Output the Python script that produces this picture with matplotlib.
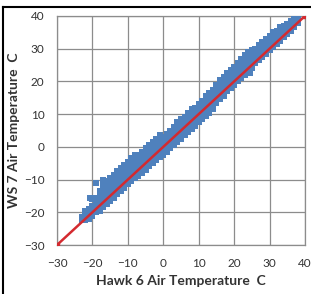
import matplotlib.pyplot as plt
from matplotlib.lines import Line2D

# Hawk 6 (x) vs WS 7 (y) air temperature
col_x = [-23, -22, -21, -20, -19, -18, -17, -16, -15, -14, -13, -12, -11, -10,
         -9, -8, -7, -6, -5, -4, -3, -2, -1, 0, 1, 2, 3, 4, 5, 6, 7, 8, 9, 10,
         11, 12, 13, 14, 15, 16, 17, 18, 19, 20, 21, 22, 23, 24, 25, 26, 27,
         28, 29, 30, 31, 32, 33, 34, 35, 36, 37, 38]
col_y = [
    [-22.5, -21.5],
    [-22.5, -21, -19.5],
    [-22, -20.5, -19],
    [-21, -19.5, -18, -16],
    [-20, -18.5, -17, -15.5],
    [-19.5, -18, -16.5, -15, -13.5],
    [-18.5, -17, -15.5, -14, -12.5, -11.5],
    [-17.5, -16, -14.5, -13, -11.5, -10.5],
    [-16.5, -15, -13.5, -12, -10.5, -9.5],
    [-15.5, -14, -12.5, -11, -9.5, -8.5],
    [-14.5, -13, -11.5, -10, -8.5, -7.5],
    [-13.5, -12, -10.5, -9, -7.5, -6.5],
    [-12.5, -11, -9.5, -8, -6.5, -5.5],
    [-11.5, -10, -8.5, -7, -5.5, -4.5],
    [-10.5, -9, -7.5, -6, -4.5, -3.5],
    [-9.5, -8, -6.5, -5, -3.5, -2.5],
    [-9, -7.5, -6, -4.5, -3, -2.5],
    [-8, -6.5, -5, -3.5, -2, -1.5],
    [-7, -5.5, -4, -2.5, -1, -0.5],
    [-6, -4.5, -3, -1.5, 0, 0.5],
    [-5, -3.5, -2, -0.5, 1, 1.5],
    [-4, -2.5, -1, 0.5, 2, 2.5],
    [-3, -1.5, 0, 1.5, 3, 3.5],
    [-2.5, -1, 0.5, 2, 3],
    [-1.5, 0, 1.5, 3, 4],
    [-0.5, 1, 2.5, 4, 5],
    [0.5, 2, 3.5, 5, 6],
    [1.5, 3, 4.5, 6, 7.5],
    [2.5, 4, 5.5, 7, 8.5],
    [3.5, 5, 6.5, 8, 9],
    [4.5, 6, 7.5, 9, 10.5],
    [5.5, 7, 8.5, 10, 11.5],
    [6.5, 8, 9.5, 11, 12],
    [7.5, 9, 10.5, 12, 13],
    [8.5, 10, 11.5, 13, 14],
    [9.5, 11, 12.5, 14, 15.5],
    [10.5, 12, 13.5, 15, 16.5],
    [11.5, 13, 14.5, 16, 17.5],
    [13.5, 15, 16.5, 18, 19],
    [14.5, 16, 17.5, 19, 20.5],
    [15.5, 17, 18.5, 20, 21.5],
    [17, 18.5, 20, 21.5, 22.5],
    [18, 19.5, 21, 22.5, 23.5],
    [19, 20.5, 22, 23.5, 24.5],
    [20, 21.5, 23, 24.5, 25.5],
    [21, 22.5, 24, 25.5, 27],
    [22, 23.5, 25, 26.5, 28],
    [23, 24.5, 26, 27.5, 29],
    [24, 25.5, 27, 28.5, 29.5],
    [25.5, 27, 28.5, 30],
    [26.5, 28, 29.5, 31],
    [27.5, 29, 30.5, 32],
    [28.5, 30, 31.5, 33],
    [29.5, 31, 32.5, 34],
    [30.5, 32, 33.5, 35],
    [31.5, 33, 34.5, 35.5],
    [32.5, 34, 35.5, 36.5],
    [33.5, 35, 36.5, 37],
    [34.5, 36, 37.5],
    [35.5, 37, 38.5],
    [36.5, 38, 39],
    [38, 39],
]
# a few stray points off the band
odd_x = [-20.7, -19, -17, 24.5]
odd_y = [-15.7, -11, -10, 22.7]

# 1:1 line
one_x = [-30, 40]
one_y = [-30, 40]
ticks = [-30, -20, -10, 0, 10, 20, 30, 40]

xs, ys = [], []
for x, yy in zip(col_x, col_y):
    for y in yy:
        xs.append(x)
        ys.append(y)
xs += odd_x
ys += odd_y

plt.rcParams['font.family'] = ['Lato', 'DejaVu Sans']

fig = plt.figure(figsize=(3.11, 2.94), dpi=100)
ax = fig.add_axes([57/311, 1 - 245/294, 248/311, 229/294])

ax.scatter(xs, ys, s=19, marker='s', color='#4f81bd', linewidths=0, zorder=3)
ax.plot(one_x, one_y, color='#d42a2f', lw=1.8, marker='s', ms=3, zorder=4)

ax.set_xlim(-30, 40)
ax.set_ylim(-30, 40)
ax.set_xticks(ticks)
ax.set_yticks(ticks)
ax.grid(True, color='#8c8c8c', lw=0.9)
ax.set_axisbelow(True)
for s in ax.spines.values():
    s.set_color('#8c8c8c')
    s.set_linewidth(0.9)
ax.tick_params(axis='x', length=0, labelsize=8.5, colors='#333333', pad=9.5)
ax.tick_params(axis='y', length=0, labelsize=8.5, colors='#333333', pad=9)

ax.set_xlabel('Hawk 6 Air Temperature  C', fontsize=10, fontweight='bold',
              color='#333333', labelpad=4)
ax.set_ylabel('WS 7 Air Temperature  C', fontsize=10, fontweight='bold',
              color='#333333', labelpad=3)

# frame of the original picture (left and top edges)
fx = 3 / 311
fy = 1 - 7 / 294
fig.add_artist(Line2D([fx, fx], [0, fy], color='black', lw=1.5))
fig.add_artist(Line2D([fx, 1], [fy, fy], color='black', lw=1.5))

fig.savefig('out.png', dpi=100)
